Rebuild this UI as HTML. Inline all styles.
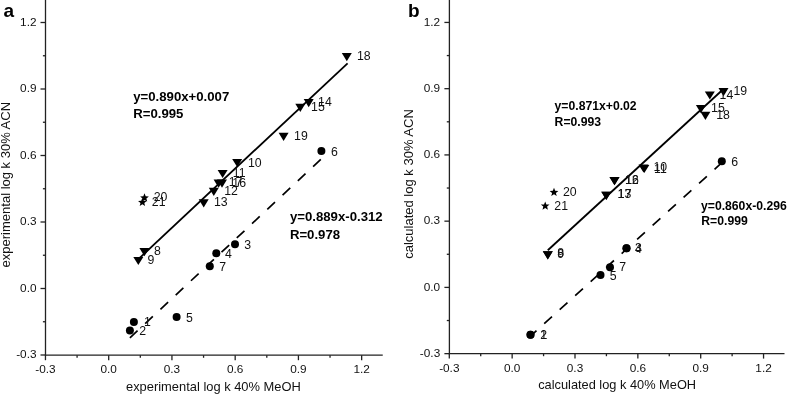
<!DOCTYPE html>
<html><head><meta charset="utf-8"><style>
html,body{margin:0;padding:0;background:#fff;overflow:hidden;width:787px;height:394px;}
svg{display:block;will-change:transform;}
text{font-family:"Liberation Sans",sans-serif;fill:#000;}
.tk{font-size:11.8px;fill:#111;}
.lb{font-size:12.3px;fill:#111;}
.tt{font-size:12.9px;fill:#111;}
.bd{font-weight:bold;}
.pl{font-size:19px;font-weight:bold;}
.ax{stroke:#222;stroke-width:1.3;fill:none;}
.rg{stroke:#000;stroke-width:1.8;}
.ds{stroke:#000;stroke-width:1.7;stroke-dasharray:10.5 10.4;}
</style></head><body>
<svg width="787" height="394" viewBox="0 0 787 394">
<rect width="787" height="394" fill="#fff"/>
<line x1="45.5" y1="0" x2="45.5" y2="355.8" class="ax"/>
<line x1="44.9" y1="355.2" x2="382.74" y2="355.2" class="ax"/>
<line x1="45.46" y1="355.2" x2="45.46" y2="360.2" class="ax"/>
<text x="45.46" y="373.40" class="tk" text-anchor="middle">-0.3</text>
<line x1="77.08" y1="355.2" x2="77.08" y2="357.8" class="ax"/>
<line x1="108.70" y1="355.2" x2="108.70" y2="360.2" class="ax"/>
<text x="108.70" y="373.40" class="tk" text-anchor="middle">0.0</text>
<line x1="140.32" y1="355.2" x2="140.32" y2="357.8" class="ax"/>
<line x1="171.94" y1="355.2" x2="171.94" y2="360.2" class="ax"/>
<text x="171.94" y="373.40" class="tk" text-anchor="middle">0.3</text>
<line x1="203.56" y1="355.2" x2="203.56" y2="357.8" class="ax"/>
<line x1="235.18" y1="355.2" x2="235.18" y2="360.2" class="ax"/>
<text x="235.18" y="373.40" class="tk" text-anchor="middle">0.6</text>
<line x1="266.80" y1="355.2" x2="266.80" y2="357.8" class="ax"/>
<line x1="298.42" y1="355.2" x2="298.42" y2="360.2" class="ax"/>
<text x="298.42" y="373.40" class="tk" text-anchor="middle">0.9</text>
<line x1="330.04" y1="355.2" x2="330.04" y2="357.8" class="ax"/>
<line x1="361.66" y1="355.2" x2="361.66" y2="360.2" class="ax"/>
<text x="361.66" y="373.40" class="tk" text-anchor="middle">1.2</text>
<line x1="45.5" y1="355.00" x2="40.5" y2="355.00" class="ax"/>
<text x="36.50" y="358.20" class="tk" text-anchor="end">-0.3</text>
<line x1="45.5" y1="321.75" x2="42.9" y2="321.75" class="ax"/>
<line x1="45.5" y1="288.50" x2="40.5" y2="288.50" class="ax"/>
<text x="36.50" y="291.70" class="tk" text-anchor="end">0.0</text>
<line x1="45.5" y1="255.25" x2="42.9" y2="255.25" class="ax"/>
<line x1="45.5" y1="222.00" x2="40.5" y2="222.00" class="ax"/>
<text x="36.50" y="225.20" class="tk" text-anchor="end">0.3</text>
<line x1="45.5" y1="188.75" x2="42.9" y2="188.75" class="ax"/>
<line x1="45.5" y1="155.50" x2="40.5" y2="155.50" class="ax"/>
<text x="36.50" y="158.70" class="tk" text-anchor="end">0.6</text>
<line x1="45.5" y1="122.25" x2="42.9" y2="122.25" class="ax"/>
<line x1="45.5" y1="89.00" x2="40.5" y2="89.00" class="ax"/>
<text x="36.50" y="92.20" class="tk" text-anchor="end">0.9</text>
<line x1="45.5" y1="55.75" x2="42.9" y2="55.75" class="ax"/>
<line x1="45.5" y1="22.50" x2="40.5" y2="22.50" class="ax"/>
<text x="36.50" y="25.70" class="tk" text-anchor="end">1.2</text>
<line x1="449.4" y1="0" x2="449.4" y2="354.20000000000005" class="ax"/>
<line x1="448.79999999999995" y1="353.6" x2="784.5" y2="353.6" class="ax"/>
<line x1="449.30" y1="353.6" x2="449.30" y2="358.6" class="ax"/>
<text x="449.30" y="372.00" class="tk" text-anchor="middle">-0.3</text>
<line x1="480.72" y1="353.6" x2="480.72" y2="356.20000000000005" class="ax"/>
<line x1="512.15" y1="353.6" x2="512.15" y2="358.6" class="ax"/>
<text x="512.15" y="372.00" class="tk" text-anchor="middle">0.0</text>
<line x1="543.57" y1="353.6" x2="543.57" y2="356.20000000000005" class="ax"/>
<line x1="575.00" y1="353.6" x2="575.00" y2="358.6" class="ax"/>
<text x="575.00" y="372.00" class="tk" text-anchor="middle">0.3</text>
<line x1="606.42" y1="353.6" x2="606.42" y2="356.20000000000005" class="ax"/>
<line x1="637.85" y1="353.6" x2="637.85" y2="358.6" class="ax"/>
<text x="637.85" y="372.00" class="tk" text-anchor="middle">0.6</text>
<line x1="669.27" y1="353.6" x2="669.27" y2="356.20000000000005" class="ax"/>
<line x1="700.70" y1="353.6" x2="700.70" y2="358.6" class="ax"/>
<text x="700.70" y="372.00" class="tk" text-anchor="middle">0.9</text>
<line x1="732.12" y1="353.6" x2="732.12" y2="356.20000000000005" class="ax"/>
<line x1="763.55" y1="353.6" x2="763.55" y2="358.6" class="ax"/>
<text x="763.55" y="372.00" class="tk" text-anchor="middle">1.2</text>
<line x1="449.4" y1="353.64" x2="444.4" y2="353.64" class="ax"/>
<text x="440.20" y="356.84" class="tk" text-anchor="end">-0.3</text>
<line x1="449.4" y1="320.52" x2="446.79999999999995" y2="320.52" class="ax"/>
<line x1="449.4" y1="287.40" x2="444.4" y2="287.40" class="ax"/>
<text x="440.20" y="290.60" class="tk" text-anchor="end">0.0</text>
<line x1="449.4" y1="254.28" x2="446.79999999999995" y2="254.28" class="ax"/>
<line x1="449.4" y1="221.16" x2="444.4" y2="221.16" class="ax"/>
<text x="440.20" y="224.36" class="tk" text-anchor="end">0.3</text>
<line x1="449.4" y1="188.04" x2="446.79999999999995" y2="188.04" class="ax"/>
<line x1="449.4" y1="154.92" x2="444.4" y2="154.92" class="ax"/>
<text x="440.20" y="158.12" class="tk" text-anchor="end">0.6</text>
<line x1="449.4" y1="121.80" x2="446.79999999999995" y2="121.80" class="ax"/>
<line x1="449.4" y1="88.68" x2="444.4" y2="88.68" class="ax"/>
<text x="440.20" y="91.88" class="tk" text-anchor="end">0.9</text>
<line x1="449.4" y1="55.56" x2="446.79999999999995" y2="55.56" class="ax"/>
<line x1="449.4" y1="22.44" x2="444.4" y2="22.44" class="ax"/>
<text x="440.20" y="25.64" class="tk" text-anchor="end">1.2</text>
<line x1="138.30" y1="259.25" x2="347.60" y2="63.36" class="rg"/>
<line x1="129.90" y1="337.84" x2="321.40" y2="158.82" class="ds"/>
<line x1="547.80" y1="250.26" x2="723.50" y2="88.97" class="rg"/>
<line x1="530.50" y1="336.12" x2="721.80" y2="162.73" class="ds" stroke-dashoffset="2.4"/>
<path d="M341.80,53.00H351.80L346.80,61.20Z"/>
<path d="M303.70,99.10H313.70L308.70,107.30Z"/>
<path d="M295.30,103.70H305.30L300.30,111.90Z"/>
<path d="M278.60,132.80H288.60L283.60,141.00Z"/>
<path d="M232.20,158.90H242.20L237.20,167.10Z"/>
<path d="M217.60,169.90H227.60L222.60,178.10Z"/>
<path d="M213.60,179.50H223.60L218.60,187.70Z"/>
<path d="M217.00,179.50H227.00L222.00,187.70Z"/>
<path d="M208.80,187.70H218.80L213.80,195.90Z"/>
<path d="M198.70,199.20H208.70L203.70,207.40Z"/>
<path d="M139.40,248.10H149.40L144.40,256.30Z"/>
<path d="M133.30,256.90H143.30L138.30,265.10Z"/>
<circle cx="321.40" cy="151.10" r="4.0"/>
<circle cx="235.00" cy="244.30" r="4.0"/>
<circle cx="216.30" cy="253.20" r="4.0"/>
<circle cx="209.80" cy="266.20" r="4.0"/>
<circle cx="176.60" cy="317.00" r="4.0"/>
<circle cx="133.90" cy="322.00" r="4.0"/>
<circle cx="129.90" cy="330.60" r="4.0"/>
<polygon points="144.50,193.30 145.68,196.28 148.87,196.48 146.40,198.52 147.20,201.62 144.50,199.90 141.80,201.62 142.60,198.52 140.13,196.48 143.32,196.28"/>
<polygon points="142.40,197.70 143.58,200.68 146.77,200.88 144.30,202.92 145.10,206.02 142.40,204.30 139.70,206.02 140.50,202.92 138.03,200.88 141.22,200.68"/>
<path d="M718.50,88.10H728.50L723.50,96.30Z"/>
<path d="M704.80,91.40H714.80L709.80,99.60Z"/>
<path d="M695.90,105.10H705.90L700.90,113.30Z"/>
<path d="M700.40,111.80H710.40L705.40,120.00Z"/>
<path d="M638.50,164.40H648.50L643.50,172.60Z"/>
<path d="M639.30,164.90H649.30L644.30,173.10Z"/>
<path d="M609.50,177.10H619.50L614.50,185.30Z"/>
<path d="M609.50,177.10H619.50L614.50,185.30Z"/>
<path d="M601.30,191.70H611.30L606.30,199.90Z"/>
<path d="M601.30,191.70H611.30L606.30,199.90Z"/>
<path d="M542.80,251.20H552.80L547.80,259.40Z"/>
<path d="M542.80,251.20H552.80L547.80,259.40Z"/>
<circle cx="721.80" cy="161.30" r="4.0"/>
<circle cx="626.50" cy="248.30" r="4.0"/>
<circle cx="626.50" cy="248.30" r="4.0"/>
<circle cx="610.00" cy="267.20" r="4.0"/>
<circle cx="600.50" cy="275.00" r="4.0"/>
<circle cx="530.50" cy="334.70" r="4.0"/>
<circle cx="530.50" cy="334.70" r="4.0"/>
<polygon points="554.00,187.70 555.18,190.68 558.37,190.88 555.90,192.92 556.70,196.02 554.00,194.30 551.30,196.02 552.10,192.92 549.63,190.88 552.82,190.68"/>
<polygon points="545.20,201.40 546.38,204.38 549.57,204.58 547.10,206.62 547.90,209.72 545.20,208.00 542.50,209.72 543.30,206.62 540.83,204.58 544.02,204.38"/>
<text x="356.90" y="59.66" class="lb">18</text>
<text x="318.10" y="106.26" class="lb">14</text>
<text x="311.10" y="110.76" class="lb">15</text>
<text x="294.10" y="139.76" class="lb">19</text>
<text x="248.00" y="166.56" class="lb">10</text>
<text x="232.80" y="177.16" class="lb">11</text>
<text x="228.70" y="186.36" class="lb">17</text>
<text x="232.30" y="186.56" class="lb">16</text>
<text x="224.20" y="195.46" class="lb">12</text>
<text x="214.00" y="206.16" class="lb">13</text>
<text x="154.00" y="255.06" class="lb">8</text>
<text x="147.50" y="263.86" class="lb">9</text>
<text x="330.90" y="155.66" class="lb">6</text>
<text x="244.20" y="248.66" class="lb">3</text>
<text x="224.90" y="258.46" class="lb">4</text>
<text x="219.30" y="270.56" class="lb">7</text>
<text x="186.00" y="322.26" class="lb">5</text>
<text x="144.00" y="326.16" class="lb">1</text>
<text x="139.30" y="334.56" class="lb">2</text>
<text x="153.70" y="201.26" class="lb">20</text>
<text x="151.80" y="206.06" class="lb">21</text>
<text x="733.50" y="94.86" class="lb">19</text>
<text x="719.60" y="98.56" class="lb">14</text>
<text x="711.10" y="112.36" class="lb">15</text>
<text x="716.20" y="118.56" class="lb">18</text>
<text x="653.50" y="170.96" class="lb">10</text>
<text x="654.10" y="172.56" class="lb">11</text>
<text x="625.00" y="184.26" class="lb">12</text>
<text x="625.20" y="184.26" class="lb">16</text>
<text x="617.60" y="198.36" class="lb">13</text>
<text x="617.80" y="198.36" class="lb">17</text>
<text x="557.30" y="257.26" class="lb">8</text>
<text x="557.30" y="258.36" class="lb">9</text>
<text x="731.30" y="165.66" class="lb">6</text>
<text x="635.10" y="252.46" class="lb">3</text>
<text x="635.10" y="252.76" class="lb">4</text>
<text x="619.20" y="271.16" class="lb">7</text>
<text x="609.70" y="279.56" class="lb">5</text>
<text x="540.20" y="338.56" class="lb">1</text>
<text x="540.20" y="339.26" class="lb">2</text>
<text x="562.90" y="196.06" class="lb">20</text>
<text x="554.30" y="210.26" class="lb">21</text>
<text x="133.20" y="101.08" class="bd" font-size="13.2">y=0.890x+0.007</text>
<text x="133.20" y="117.98" class="bd" font-size="13.2">R=0.995</text>
<text x="289.90" y="220.98" class="bd" font-size="13.2">y=0.889x-0.312</text>
<text x="289.90" y="238.68" class="bd" font-size="13.2">R=0.978</text>
<text x="554.60" y="110.09" class="bd" font-size="12.2">y=0.871x+0.02</text>
<text x="554.60" y="125.59" class="bd" font-size="12.2">R=0.993</text>
<text x="701.00" y="210.19" class="bd" font-size="12.2">y=0.860x-0.296</text>
<text x="701.30" y="224.99" class="bd" font-size="12.2">R=0.999</text>
<text x="126.0" y="390.8" class="tt">experimental log k 40% MeOH</text>
<text x="538.2" y="389.4" class="tt" style="font-size:12.8px">calculated log k 40% MeOH</text>
<text transform="translate(9.6,267.4) rotate(-90)" class="tt" style="font-size:13.0px">experimental log k 30% ACN</text>
<text transform="translate(413.2,258.8) rotate(-90)" class="tt" style="font-size:13.0px">calculated log k 30% ACN</text>
<text x="3.6" y="17.4" class="pl">a</text>
<text x="408.1" y="16.9" class="pl">b</text>
</svg>
</body></html>
